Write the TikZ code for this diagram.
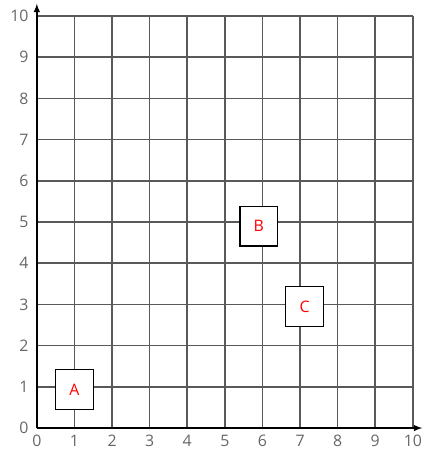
\documentclass[tikz,border=0pt]{standalone}
\usepackage{fontspec}
\setmainfont{Open Sans}
\begin{document}
\begin{tikzpicture}[x=1cm, y=1.0957cm,
    pointbox/.style={draw=black, fill=white, line width=1pt, minimum width=1cm,
      minimum height=1.06cm, inner sep=0pt, text=red, font=\large},
    ticklabel/.style={text=black!60, font=\large}]
      \useasboundingbox (-0.98,-0.63) rectangle (10.35,10.39);

      % grid
      \draw[line width=1.2pt, color=black!65] (0,0) grid[step=1] (10,10);

      % axes
      \draw[line width=1.2pt, -latex] (0,0) -- (10.25,0);
      \draw[line width=1.2pt, -latex] (0,0) -- (0,10.3);
      \foreach \x in {0, ..., 10}
      \node[ticklabel, below] at (\x,-0.05) {\x};
      \foreach \y in {0, ..., 10}
      \node[ticklabel, left] at (-0.1,\y) {\y};

      % the points
      \node[pointbox] (A) at (1,0.93) {A};
      \node[pointbox] (B) at (5.9,4.9) {B};
      \node[pointbox] (C) at (7.12,2.95) {C};
    \end{tikzpicture}
\end{document}
